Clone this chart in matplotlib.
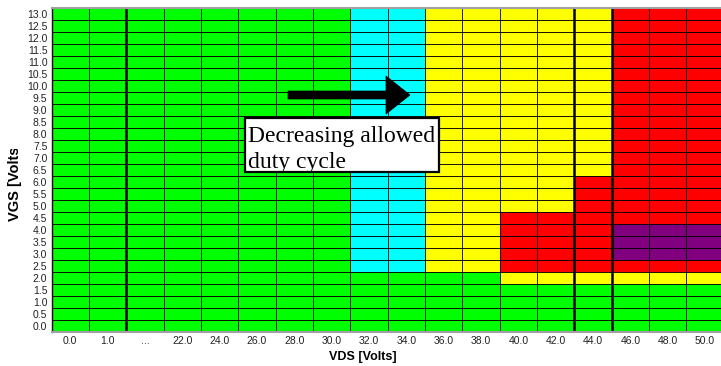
import matplotlib
matplotlib.use("Agg")
import matplotlib.pyplot as plt
import numpy as np
from matplotlib.colors import ListedColormap
from matplotlib.patches import Polygon, Rectangle

# ---------------- data ----------------
vds_labels = ["0.0", "1.0", "...", "22.0", "24.0", "26.0", "28.0", "30.0", "32.0",
              "34.0", "36.0", "38.0", "40.0", "42.0", "44.0", "46.0", "48.0", "50.0"]
vgs_labels = ["0.0", "0.5", "1.0", "1.5", "2.0", "2.5", "3.0", "3.5", "4.0", "4.5",
              "5.0", "5.5", "6.0", "6.5", "7.0", "7.5", "8.0", "8.5", "9.0", "9.5",
              "10.0", "10.5", "11.0", "11.5", "12.0", "12.5", "13.0"]
# region code per cell, rows listed from VGS = 13.0 (top) down to 0.0 (bottom)
grid_rows = [
    "GGGGGGGGCCYYYYYRRR",  # 13.0
    "GGGGGGGGCCYYYYYRRR",  # 12.5
    "GGGGGGGGCCYYYYYRRR",  # 12.0
    "GGGGGGGGCCYYYYYRRR",  # 11.5
    "GGGGGGGGCCYYYYYRRR",  # 11.0
    "GGGGGGGGCCYYYYYRRR",  # 10.5
    "GGGGGGGGCCYYYYYRRR",  # 10.0
    "GGGGGGGGCCYYYYYRRR",  # 9.5
    "GGGGGGGGCCYYYYYRRR",  # 9.0
    "GGGGGGGGCCYYYYYRRR",  # 8.5
    "GGGGGGGGCCYYYYYRRR",  # 8.0
    "GGGGGGGGCCYYYYYRRR",  # 7.5
    "GGGGGGGGCCYYYYYRRR",  # 7.0
    "GGGGGGGGCCYYYYYRRR",  # 6.5
    "GGGGGGGGCCYYYYRRRR",  # 6.0
    "GGGGGGGGCCYYYYRRRR",  # 5.5
    "GGGGGGGGCCYYYYRRRR",  # 5.0
    "GGGGGGGGCCYYRRRRRR",  # 4.5
    "GGGGGGGGCCYYRRRPPP",  # 4.0
    "GGGGGGGGCCYYRRRPPP",  # 3.5
    "GGGGGGGGCCYYRRRPPP",  # 3.0
    "GGGGGGGGCCYYRRRRRR",  # 2.5
    "GGGGGGGGGGGGYYYYYY",  # 2.0
    "GGGGGGGGGGGGGGGGGG",  # 1.5
    "GGGGGGGGGGGGGGGGGG",  # 1.0
    "GGGGGGGGGGGGGGGGGG",  # 0.5
    "GGGGGGGGGGGGGGGGGG",  # 0.0
]
region_codes = ["G", "C", "Y", "R", "P"]
region_colors = ["#00ff00", "#00ffff", "#ffff00", "#ff0000", "#800080"]
region_breaks = [1.5, 13.5, 14.5]  # thick column separators
annotation_lines = ["Decreasing allowed", "duty cycle"]

# ---------------- figure ----------------
W, H = 721, 366
fig = plt.figure(figsize=(W / 100, H / 100), dpi=100)
plt.rcParams["font.family"] = ["Liberation Sans", "DejaVu Sans"]

def fx(px):
    return px / W

def fy(py):
    return 1 - py / H

left_px, top_px, bottom_px = 51.5, 8.0, 332.0
col_w = 37.35
ax = fig.add_axes([fx(left_px), fy(bottom_px), 1 - fx(left_px), (bottom_px - top_px) / H])

codes = np.array([[region_codes.index(c) for c in row] for row in grid_rows[::-1]])
ny, nx = codes.shape
cmap = ListedColormap(region_colors)
ax.pcolormesh(np.arange(nx + 1) - 0.5, np.arange(ny + 1) - 0.5, codes,
              cmap=cmap, vmin=-0.5, vmax=len(region_codes) - 0.5,
              edgecolors="none", linewidth=0)
# cell borders
for xb in np.arange(nx) + 0.5:
    ax.axvline(xb, color="black", lw=0.72, alpha=0.85)
for yb in np.arange(ny) + 0.5:
    ax.axhline(yb, color="black", lw=0.72, alpha=0.9)
for b in region_breaks:
    ax.axvline(b, color="black", lw=1.8)

right_lim = -0.5 + (W - left_px) / col_w
ax.set_xlim(-0.5, right_lim)
ax.set_ylim(-0.5, ny - 0.5)
ax.set_xticks(np.arange(nx))
ax.set_xticklabels(vds_labels, fontsize=7.5, color="#222222")
ax.set_yticks(np.arange(ny))
ax.set_yticklabels(vgs_labels, fontsize=7.5, color="#222222")
ax.tick_params(length=0, pad=3)
ax.spines["right"].set_visible(False)
ax.spines["top"].set_color("#a0a0a0")
ax.spines["top"].set_linewidth(1.5)
ax.spines["bottom"].set_color("#a0a0a0")
ax.spines["bottom"].set_linewidth(1.5)
ax.spines["left"].set_color("black")
ax.spines["left"].set_linewidth(1.0)

# axis labels
fig.text(fx(362.5), fy(357), "VDS [Volts]", ha="center", va="center",
         fontsize=9, fontweight="bold")
ylab = fig.text(fx(15), fy(221), "VGS [Volts]", ha="center", va="bottom",
                rotation=90, fontsize=10.5, fontweight="bold")
clip_rect = Rectangle((0, 0), 1, fy(149), transform=fig.transFigure,
                      facecolor="none", edgecolor="none")
ylab.set_clip_path(clip_rect)

# arrow (figure pixel coords)
shaft_h = 4.0
arrow_px = [(288, 95 - shaft_h), (386, 95 - shaft_h), (386, 76), (410, 95),
            (386, 114), (386, 95 + shaft_h), (288, 95 + shaft_h)]
fig.patches.append(Polygon([(fx(x), fy(y)) for x, y in arrow_px], closed=True,
                           transform=fig.transFigure, facecolor="black",
                           edgecolor="black", lw=0.5))

# text box
bx0, by0, bx1, by1 = 244.5, 117.5, 439.5, 171.5
box = Rectangle((fx(bx0), fy(by1)), fx(bx1 - bx0), (by1 - by0) / H,
                transform=fig.transFigure, facecolor="white", edgecolor="black",
                lw=1.6)
fig.patches.append(box)
for line, base_y in zip(annotation_lines, [142, 168]):
    t = fig.text(fx(248), fy(base_y), line, ha="left", va="baseline",
                 fontsize=17, family=["Liberation Serif", "DejaVu Serif"],
                 color="black")
    t.set_clip_path(box)

fig.savefig("out.png", dpi=100)
